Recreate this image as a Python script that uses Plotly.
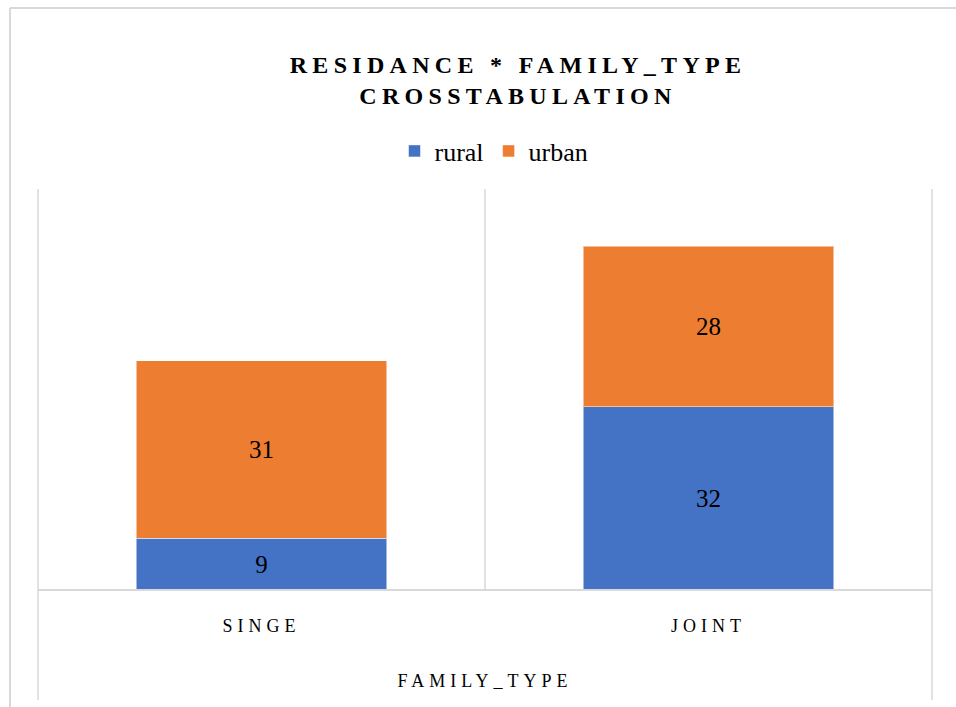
import plotly.graph_objects as go

categories = ["SINGE", "JOINT"]
rural = [9, 32]
urban = [31, 28]
series_names = ["rural", "urban"]
colors = ["#4472C4", "#ED7D31"]

W, H = 956, 707
L, R, T, B = 38, 24, 189, 117
pw, ph = W - L - R, H - T - B

def px_x(x):
    return (x - L) / pw

def px_y(y):
    return (H - B - y) / ph

FONT = "Liberation Serif"

fig = go.Figure()
for name, vals, col in zip(series_names, [rural, urban], colors):
    fig.add_trace(go.Bar(
        x=categories, y=vals, name=name,
        marker=dict(color=col, line=dict(color="rgba(255,255,255,0.5)", width=1)),
        text=[str(v) for v in vals], textposition="inside",
        insidetextanchor="middle",
        textfont=dict(family=FONT, size=25, color="#000000"),
        width=0.56,
    ))

grid = "#d9d9d9"
shapes = [
    # chart border (top & left)
    dict(type="line", xref="paper", yref="paper", x0=px_x(10), x1=px_x(960), y0=px_y(8), y1=px_y(8), line=dict(color=grid, width=2)),
    dict(type="line", xref="paper", yref="paper", x0=px_x(10), x1=px_x(10), y0=px_y(8), y1=px_y(710), line=dict(color=grid, width=2)),
    # category boundary lines
    dict(type="line", xref="paper", yref="paper", x0=0, x1=0, y0=px_y(700), y1=1, line=dict(color=grid, width=1.5)),
    dict(type="line", xref="paper", yref="paper", x0=0.5, x1=0.5, y0=0, y1=1, line=dict(color=grid, width=1.5)),
    dict(type="line", xref="paper", yref="paper", x0=1, x1=1, y0=px_y(700), y1=1, line=dict(color=grid, width=1.5)),
    # category axis line
    dict(type="line", xref="paper", yref="paper", x0=0, x1=1, y0=0, y1=0, line=dict(color=grid, width=2)),
]

fig.update_layout(
    width=W, height=H,
    margin=dict(l=L, r=R, t=T, b=B, pad=0),
    barmode="stack",
    paper_bgcolor="white", plot_bgcolor="white",
    font=dict(family=FONT, color="#000000"),
    title=dict(
        text="<b>RESIDANCE * FAMILY_TYPE<br>CROSSTABULATION</b>",
        font=dict(family=FONT, size=24, color="#000000"),
        x=518 / W, xanchor="center", xref="container",
        y=1 - 73 / H, yanchor="top", yref="container",
    ),
    legend=dict(
        orientation="h", x=px_x(494), xanchor="center",
        y=px_y(151), yanchor="middle",
        font=dict(family=FONT, size=26, color="#000000"),
        itemwidth=30, traceorder="normal",
        bgcolor="rgba(0,0,0,0)",
    ),
    xaxis=dict(
        type="category", range=[-0.5, 1.5], showgrid=False, showline=False,
        zeroline=False, ticks="outside", ticklen=19, tickcolor="rgba(0,0,0,0)",
        tickfont=dict(family=FONT, size=18, color="#000000"),
        title=dict(text="FAMILY_TYPE", font=dict(family=FONT, size=18, color="#000000"), standoff=39),
        fixedrange=True,
    ),
    yaxis=dict(range=[0, 70], visible=False, fixedrange=True),
    shapes=shapes,
    showlegend=True,
)

post = """
document.body.style.margin = '0';
var gd = document.getElementById('{plot_id}');
function ls() {
  gd.querySelectorAll('.gtitle').forEach(function(e){ e.style.letterSpacing = '5.3px'; });
  gd.querySelectorAll('.xtick text').forEach(function(e){ e.style.letterSpacing = '5px'; });
  gd.querySelectorAll('.g-xtitle text').forEach(function(e){ e.style.letterSpacing = '5px'; });
}
ls();
gd.on('plotly_afterplot', ls);
"""

fig.write_html("out.html", post_script=post, config={"displayModeBar": False})
